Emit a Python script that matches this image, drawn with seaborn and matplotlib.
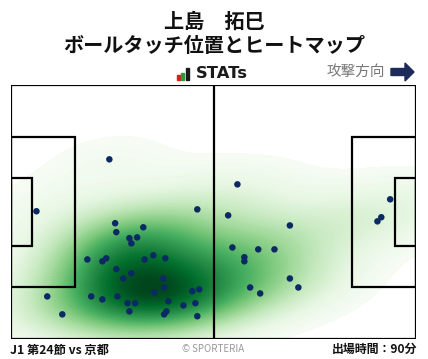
import matplotlib
matplotlib.use("Agg")
import matplotlib.pyplot as plt
from matplotlib.patches import Rectangle, FancyArrow
import seaborn as sns
import pandas as pd

# touch positions in metres (x: 0-105 attacking right, y: 0-68 from top)
touch_x = [25.5, 6.6, 48.3, 27.0, 27.3, 34.3, 30.7, 32.7, 31.2, 19.8,
           23.7, 24.7, 34.6, 36.9, 40.0, 27.3, 31.2, 29.1, 39.5, 39.7,
           37.2, 47.0, 48.8, 9.4, 20.8, 23.7, 27.6, 30.2, 32.2, 40.8,
           44.7, 47.8, 30.7, 40.3, 39.7, 48.3, 13.3, 58.7, 56.3, 72.3,
           57.4, 64.1, 68.3, 60.5, 60.5, 72.3, 74.5, 62.0, 64.6, 98.3,
           96.0, 95.0]
touch_y = [19.9, 33.8, 33.3, 37.0, 39.4, 38.1, 41.0, 40.8, 42.4, 46.7,
           47.2, 46.4, 46.7, 45.6, 46.4, 49.3, 50.4, 51.8, 51.8, 54.2,
           55.5, 55.2, 54.7, 56.6, 56.6, 57.4, 56.6, 58.4, 58.4, 57.9,
           59.0, 58.4, 60.6, 60.6, 61.4, 61.9, 61.4, 26.6, 34.9, 37.6,
           43.5, 44.0, 44.0, 46.1, 47.2, 51.8, 54.2, 54.2, 55.8, 30.6,
           35.4, 36.5]

title_name = "上島　拓巳"
title_sub = "ボールタッチ位置とヒートマップ"
footer_left = "J1 第24節 vs 京都"
footer_mid = "© SPORTERIA"
footer_right = "出場時間：90分"
direction_label = "攻撃方向"

df = pd.DataFrame({"x": touch_x, "y": touch_y})

sns.set_theme(style="white")
plt.rcParams["font.family"] = ["Noto Sans CJK JP", "DejaVu Sans"]

W, H = 428, 359
fig = plt.figure(figsize=(W / 100, H / 100), dpi=100)
ax = fig.add_axes([11 / W, (H - 339) / H, 405 / W, 254 / H])

sns.kdeplot(data=df, x="x", y="y", fill=True, cmap="Greens", levels=120,
            thresh=0.015, bw_adjust=1.3, gridsize=200,
            clip=((0, 105), (0, 68)), ax=ax, zorder=1)
sns.scatterplot(data=df, x="x", y="y", color="#0b2a63", s=22,
                edgecolor="none", ax=ax, zorder=3)

lw = 1.6
lc = "black"
# pitch outline and lines
ax.add_patch(Rectangle((0, 0), 105, 68, fill=False, lw=lw, ec=lc, zorder=4))
ax.plot([52.5, 52.5], [0, 68], color=lc, lw=lw, zorder=4)
for x0, w in [(0, 16.5), (105 - 16.5, 16.5)]:
    ax.add_patch(Rectangle((x0, 13.84), w, 40.32, fill=False, lw=lw, ec=lc, zorder=4))
for x0, w in [(0, 5.5), (105 - 5.5, 5.5)]:
    ax.add_patch(Rectangle((x0, 24.84), w, 18.32, fill=False, lw=lw, ec=lc, zorder=4))

ax.set_xlim(0, 105)
ax.set_ylim(68, 0)
ax.set_xticks([])
ax.set_yticks([])
ax.set_xlabel("")
ax.set_ylabel("")
for s in ax.spines.values():
    s.set_visible(False)

# titles
fig.text(214 / W, 1 - 21 / H, title_name, ha="center", va="center",
         fontsize=14.5, fontweight="bold", color="#111111")
fig.text(214 / W, 1 - 46 / H, title_sub, ha="center", va="center",
         fontsize=14.5, fontweight="bold", color="#111111")

# STATs logo
bars = [(177, 75, 3, "#d62020"), (181, 73, 3, "#2a9a3a"), (185.5, 68, 3.5, "#1a1a1a")]
for bx, top, bw, col in bars:
    fig.patches.append(Rectangle((bx / W, 1 - 80 / H), bw / W, (80 - top) / H,
                                 transform=fig.transFigure, color=col, figure=fig))
fig.text(196 / W, 1 - 73.5 / H, "STATs", ha="left", va="center", fontsize=11.8,
         fontweight="bold", color="#1a1a1a", family=["DejaVu Sans"])

# direction
fig.text(385 / W, 1 - 72 / H, direction_label, ha="right", va="center",
         fontsize=10.5, color="#777777")
fig.patches.append(FancyArrow(391 / W, 1 - 72 / H, 23 / W, 0, width=7 / H,
                              head_width=18 / H, head_length=9 / W,
                              length_includes_head=True, transform=fig.transFigure,
                              color="#1c2b5a", figure=fig))

# footer
fig.text(10 / W, 1 - 350 / H, footer_left, ha="left", va="center",
         fontsize=8.8, fontweight="bold", color="#111111")
fig.text(213 / W, 1 - 348.5 / H, footer_mid, ha="center", va="center",
         fontsize=7, color="#999999")
fig.text(417 / W, 1 - 349 / H, footer_right, ha="right", va="center",
         fontsize=8.6, fontweight="bold", color="#111111")

fig.savefig("out.png", dpi=100, facecolor="white")
